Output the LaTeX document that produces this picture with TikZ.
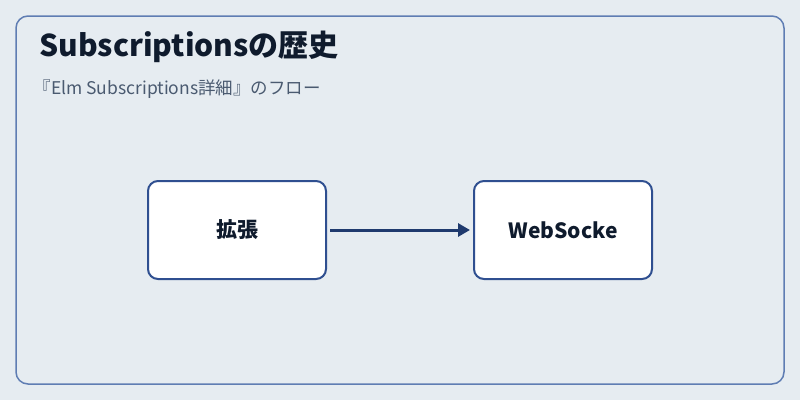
\documentclass[tikz,border=0pt]{standalone}
\usepackage{fontspec}
\setmainfont{Noto Sans CJK JP}
\usetikzlibrary{positioning,arrows.meta}
\definecolor{bgcol}{HTML}{E6ECF1}
\definecolor{framecol}{HTML}{5F7DB3}
\definecolor{boxcol}{HTML}{2F4F90}
\definecolor{arrowcol}{HTML}{1F3A6E}
\definecolor{titlecol}{HTML}{0F1B2D}
\definecolor{subcol}{HTML}{4A5A70}
\tikzset{
  stage/.style={draw=boxcol, line width=2pt, fill=white, rounded corners=10pt,
    minimum width=178pt, minimum height=98pt, font=\bfseries\fontsize{21}{25}\selectfont, text=titlecol},
  flow/.style={draw=arrowcol, line width=3pt, shorten <=3pt, shorten >=3pt,
    -{Triangle[length=12pt,width=13pt]}}
}
\begin{document}
\begin{tikzpicture}[x=1pt,y=-1pt]
\fill[bgcol] (0,0) rectangle (800,400);
\draw[framecol, line width=1.5pt, rounded corners=12pt] (16,16) rectangle (784,384);
\node[anchor=west, text=titlecol, font=\bfseries\fontsize{30}{34}\selectfont] (title) at (36,47) {Subscriptionsの歴史};
\node[anchor=west, text=subcol, font=\fontsize{17.5}{20}\selectfont] (sub) at (30,89) {『Elm Subscriptions詳細』のフロー};
\node[stage] (ext) at (237,230) {拡張};
\node[stage] (ws) at (563,230) {WebSocke};
\draw[flow] (ext) -- (ws);
\end{tikzpicture}
\end{document}
